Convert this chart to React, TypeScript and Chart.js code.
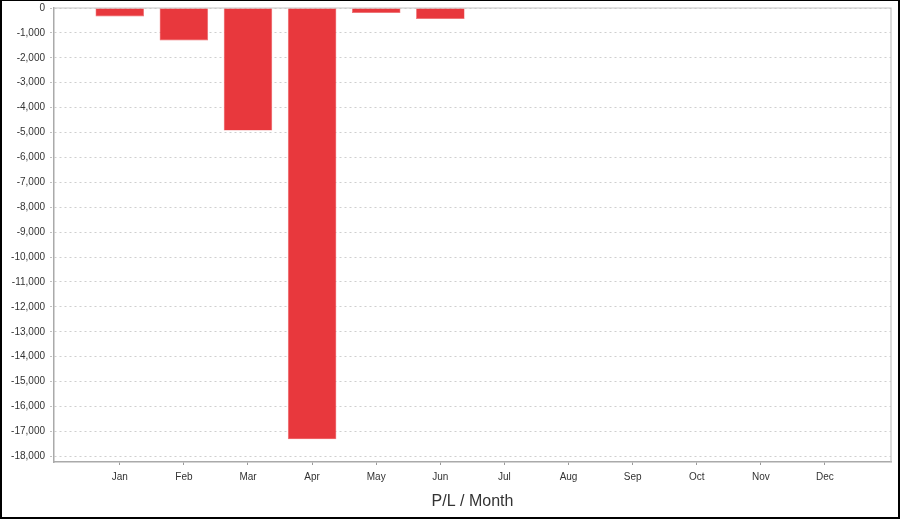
import React, { useEffect, useRef } from "react";
import { Chart, registerables } from "chart.js";

Chart.register(...registerables);

const months = ["Jan", "Feb", "Mar", "Apr", "May", "Jun", "Jul", "Aug", "Sep", "Oct", "Nov", "Dec"];
const plValues: (number | null)[] = [-338, -1303, -4921, -17317, -201, -442, null, null, null, null, null, null];
const yTickMin = -18000;
const yTickMax = 0;
const yTickStep = 1000;
const axisTitle = "P/L / Month";

const FONT = "'Liberation Sans', Arial, Helvetica, sans-serif";

const outlinePlugin = {
  id: "outline",
  beforeDatasetsDraw(chart: any) {
    const { ctx, chartArea } = chart;
    ctx.save();
    ctx.strokeStyle = "#c4c4c4";
    ctx.lineWidth = 1.2;
    ctx.beginPath();
    ctx.moveTo(chartArea.left, chartArea.top);
    ctx.lineTo(chartArea.right, chartArea.top);
    ctx.lineTo(chartArea.right, chartArea.bottom);
    ctx.stroke();
    ctx.restore();
  },
};

export default function App() {
  const ref = useRef<HTMLCanvasElement | null>(null);

  useEffect(() => {
    document.body.style.margin = "0";
    if (!ref.current) return;
    const chart = new Chart(ref.current, {
      type: "bar",
      data: {
        datasets: [
          {
            label: "P/L",
            data: months.map((m, i) => ({ x: i, y: plValues[i] })) as any,
            backgroundColor: "#e8383d",
            borderColor: "#ee6a6e",
            borderWidth: 0.6,
            categoryPercentage: 1,
            barPercentage: 0.757,
          },
        ],
      },
      options: {
        animation: false,
        responsive: false,
        maintainAspectRatio: false,
        layout: { padding: { left: 0, right: 7, top: 7, bottom: 0 } },
        plugins: {
          legend: { display: false },
          tooltip: { enabled: false },
          title: { display: false },
        },
        scales: {
          x: {
            type: "linear",
            offset: false,
            min: -1.026,
            max: 12.03,
            afterBuildTicks: (scale: any) => {
              scale.ticks = months.map((_, i) => ({ value: i }));
            },
            afterFit: (scale: any) => {
              scale.height = 55;
              scale.paddingLeft = 0;
              scale.paddingRight = 0;
            },
            grid: {
              offset: false,
              drawOnChartArea: false,
              drawTicks: true,
              tickLength: 3,
              tickColor: "#9a9a9a",
            },
            border: { display: true, color: "#aaaaaa", width: 1.5 },
            ticks: {
              autoSkip: false,
              maxRotation: 0,
              padding: 6,
              color: "#333333",
              font: { family: FONT, size: 10 },
              callback: (v: any) => months[Number(v)] ?? "",
            },
            title: {
              display: true,
              text: axisTitle,
              color: "#333333",
              font: { family: FONT, size: 16 },
              padding: { top: 0, bottom: 6 },
            },
          },
          y: {
            min: -18230,
            max: yTickMax,
            afterBuildTicks: (scale: any) => {
              const t: { value: number }[] = [];
              for (let v = yTickMax; v >= yTickMin; v -= yTickStep) t.push({ value: v });
              scale.ticks = t.reverse();
            },
            afterFit: (scale: any) => {
              scale.width = 52;
              scale.paddingTop = 0;
              scale.paddingBottom = 0;
            },
            ticks: {
              padding: 5,
              color: "#333333",
              font: { family: FONT, size: 10 },
              callback: (v: any) => Number(v).toLocaleString("en-US"),
            },
            grid: {
              color: "#cfcfcf",
              lineWidth: 1,
              tickBorderDash: [2, 3],
              tickLength: 4,
              tickColor: "#c0c0c0",
            },
            border: { display: true, color: "#aaaaaa", width: 1.5, dash: [2, 3] },
          },
        },
      },
      plugins: [outlinePlugin],
    });
    return () => chart.destroy();
  }, []);

  return (
    <div
      style={{
        position: "absolute",
        left: 0,
        top: 0,
        width: 900,
        height: 519,
        boxSizing: "border-box",
        borderTop: "1px solid #000",
        borderLeft: "2px solid #000",
        borderRight: "2px solid #000",
        borderBottom: "2px solid #000",
        background: "#fff",
      }}
    >
      <canvas ref={ref} width={896} height={516} style={{ display: "block", width: 896, height: 516 }} />
    </div>
  );
}
